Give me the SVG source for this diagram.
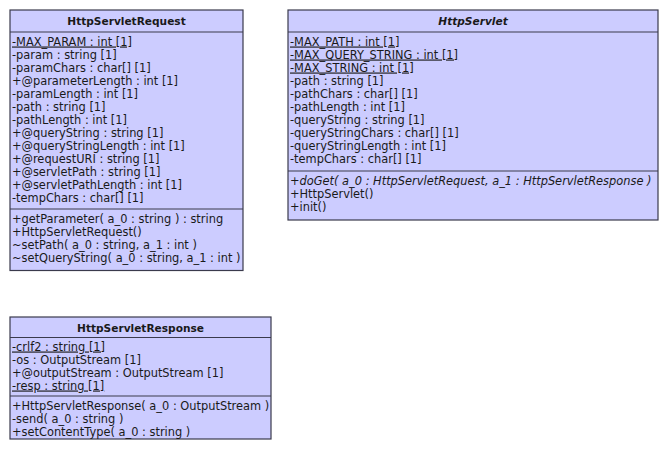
<svg xmlns="http://www.w3.org/2000/svg" width="668" height="457" viewBox="0 0 668 457">
  <style>
    .box { fill: #ccccff; stroke: #3a3a4c; stroke-width: 1.2; }
    .sep { stroke: #3a3a4c; stroke-width: 1.2; }
    .title { font-family: "DejaVu Sans", sans-serif; font-size: 10.6px; font-weight: bold; fill: #1a1a1a; text-anchor: middle; }
    .abstract { font-style: italic; }
    .m { font-family: "DejaVu Sans", sans-serif; font-size: 11.4px; fill: #1a1a1a; }
    .static { text-decoration: underline; }
  </style>
  <rect width="668" height="457" fill="#ffffff"/>

  <!-- class HttpServletRequest -->
  <g id="HttpServletRequest">
    <rect class="box" x="10" y="10" width="233" height="260.5"/>
    <line class="sep" x1="10" y1="32" x2="243" y2="32"/>
    <line class="sep" x1="10" y1="209" x2="243" y2="209"/>
    <text class="title" x="126.5" y="25">HttpServletRequest</text>
    <text class="m static" x="12" y="45.5">-MAX_PARAM : int [1]</text>
    <text class="m" x="12" y="58.5">-param : string [1]</text>
    <text class="m" x="12" y="71.5">-paramChars : char[] [1]</text>
    <text class="m" x="12" y="84.5">+@parameterLength : int [1]</text>
    <text class="m" x="12" y="97.5">-paramLength : int [1]</text>
    <text class="m" x="12" y="110.5">-path : string [1]</text>
    <text class="m" x="12" y="123.5">-pathLength : int [1]</text>
    <text class="m" x="12" y="136.5">+@queryString : string [1]</text>
    <text class="m" x="12" y="149.5">+@queryStringLength : int [1]</text>
    <text class="m" x="12" y="162.5">+@requestURI : string [1]</text>
    <text class="m" x="12" y="175.5">+@servletPath : string [1]</text>
    <text class="m" x="12" y="188.5">+@servletPathLength : int [1]</text>
    <text class="m" x="12" y="201.5">-tempChars : char[] [1]</text>
    <text class="m" x="12" y="223">+getParameter( a_0 : string ) : string</text>
    <text class="m" x="12" y="236">+HttpServletRequest()</text>
    <text class="m" x="12" y="249">~setPath( a_0 : string, a_1 : int )</text>
    <text class="m" x="12" y="262">~setQueryString( a_0 : string, a_1 : int )</text>
  </g>

  <!-- abstract class HttpServlet -->
  <g id="HttpServlet">
    <rect class="box" x="288" y="10" width="370" height="210"/>
    <line class="sep" x1="288" y1="32" x2="658" y2="32"/>
    <line class="sep" x1="288" y1="171" x2="658" y2="171"/>
    <text class="title abstract" x="473" y="25">HttpServlet</text>
    <text class="m static" x="290" y="45.5">-MAX_PATH : int [1]</text>
    <text class="m static" x="290" y="58.5">-MAX_QUERY_STRING : int [1]</text>
    <text class="m static" x="290" y="71.5">-MAX_STRING : int [1]</text>
    <text class="m" x="290" y="84.5">-path : string [1]</text>
    <text class="m" x="290" y="97.5">-pathChars : char[] [1]</text>
    <text class="m" x="290" y="110.5">-pathLength : int [1]</text>
    <text class="m" x="290" y="123.5">-queryString : string [1]</text>
    <text class="m" x="290" y="136.5">-queryStringChars : char[] [1]</text>
    <text class="m" x="290" y="149.5">-queryStringLength : int [1]</text>
    <text class="m" x="290" y="162.5">-tempChars : char[] [1]</text>
    <text class="m abstract" x="290" y="185">+doGet( a_0 : HttpServletRequest, a_1 : HttpServletResponse )</text>
    <text class="m" x="290" y="198">+HttpServlet()</text>
    <text class="m" x="290" y="211">+init()</text>
  </g>

  <!-- class HttpServletResponse -->
  <g id="HttpServletResponse">
    <rect class="box" x="10" y="317" width="261" height="122"/>
    <line class="sep" x1="10" y1="337.5" x2="271" y2="337.5"/>
    <line class="sep" x1="10" y1="396" x2="271" y2="396"/>
    <text class="title" x="140.5" y="331.5">HttpServletResponse</text>
    <text class="m static" x="12" y="350.5">-crlf2 : string [1]</text>
    <text class="m" x="12" y="363.5">-os : OutputStream [1]</text>
    <text class="m" x="12" y="376.5">+@outputStream : OutputStream [1]</text>
    <text class="m static" x="12" y="389.5">-resp : string [1]</text>
    <text class="m" x="12" y="409.5">+HttpServletResponse( a_0 : OutputStream )</text>
    <text class="m" x="12" y="422.5">-send( a_0 : string )</text>
    <text class="m" x="12" y="435.5">+setContentType( a_0 : string )</text>
  </g>

  <!-- no associations are drawn between these classes -->
  <g id="connectors"/>
</svg>
